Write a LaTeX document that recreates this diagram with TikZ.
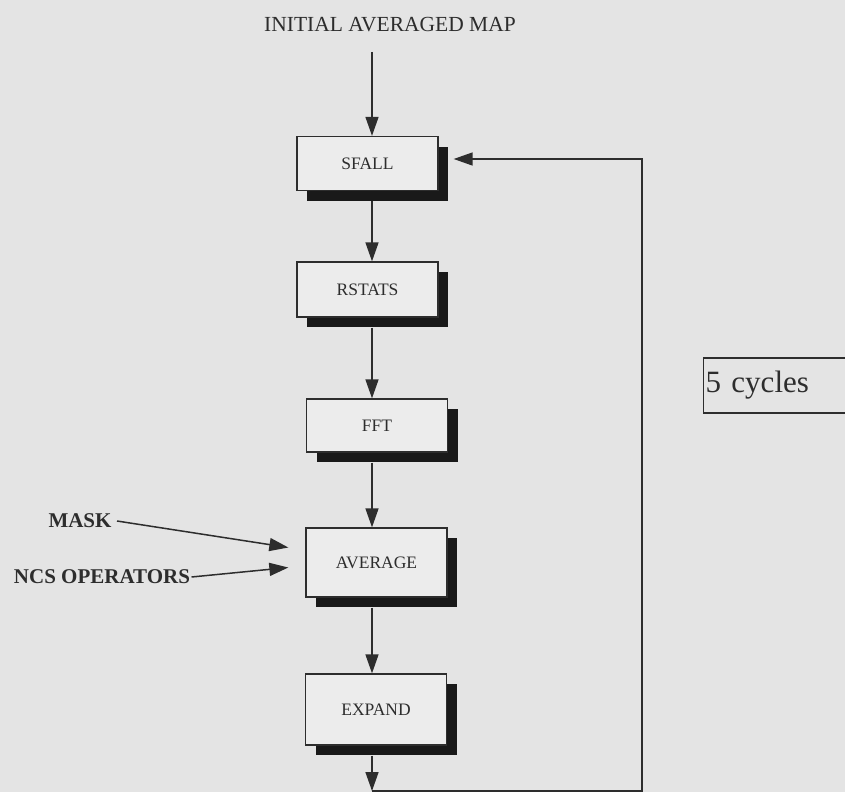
\documentclass[tikz,border=0pt]{standalone}
\usepackage{fontspec}
\setmainfont{Liberation Serif}
\usepackage{tikz}
\usetikzlibrary{arrows.meta,positioning,shadows}
\usepackage{xcolor}
\definecolor{scanbg}{RGB}{228,228,228}
\definecolor{boxfill}{RGB}{236,236,236}
\definecolor{inkdark}{RGB}{45,45,45}
\definecolor{shadowink}{RGB}{25,25,25}

\begin{document}
\begin{tikzpicture}[x=1pt, y=-1pt,
    stage/.style={rectangle, draw=inkdark, line width=1.3pt, fill=boxfill,
                  minimum width=141pt, inner sep=0pt, text=inkdark,
                  font=\fontsize{17.5}{19}\selectfont,
                  drop shadow={shadow xshift=10pt, shadow yshift=-10pt, fill=shadowink, opacity=1}},
    flow/.style={draw=inkdark, line width=1.5pt, -{Triangle[length=19pt, width=13pt]}},
    inlabel/.style={text=inkdark, font=\fontsize{21}{23}\selectfont\bfseries},
    toplabel/.style={text=inkdark, font=\fontsize{21.5}{23}\selectfont},
    note/.style={draw=inkdark, line width=1.3pt, anchor=west, align=left, text width=150pt,
                 minimum height=55pt, inner xsep=2pt, text=inkdark, font=\fontsize{31}{33}\selectfont}
]
    \fill[scanbg] (0,0) rectangle (845,792);
    \useasboundingbox (0,0) rectangle (845,792);

    \coordinate (spine) at (372,0);
    \node[toplabel] (init) at (390,25) {INITIAL AVERAGED MAP};
    \coordinate (initfoot) at (372,52);

    \node[stage, minimum height=54pt] (sfall) at (367.5,163.5) {SFALL};
    \node[stage, minimum height=55pt] (rstats) at (367.5,289.5) {RSTATS};
    \node[stage, minimum height=53pt] (fft) at (377,425.5) {FFT};
    \node[stage, minimum height=69pt, text depth=-12pt] (average) at (376.5,562.5) {AVERAGE};
    \node[stage, minimum height=71pt, text depth=-12pt] (expand) at (376,709.5) {EXPAND};

    \node[inlabel] (mask) at (80,521) {MASK};
    \node[inlabel] (ncs) at (102,577) {NCS OPERATORS};

    \node[note] (cycles) at (703,385.5) {5 cycles};

    \draw[flow] (initfoot) -- (sfall.north -| spine);
    \draw[flow] ([yshift=-10pt]sfall.south -| spine) -- (rstats.north -| spine);
    \draw[flow] ([yshift=-10pt]rstats.south -| spine) -- (fft.north -| spine);
    \draw[flow] ([yshift=-10pt]fft.south -| spine) -- (average.north -| spine);
    \draw[flow] ([yshift=-10pt]average.south -| spine) -- (expand.north -| spine);

    \coordinate (exit) at (372,791);
    \coordinate (rail) at (642,159);
    \draw[flow] ([yshift=-10pt]expand.south -| spine) -- (exit);
    \draw[flow] (exit) -| (rail) -- ([xshift=15pt, yshift=4.5pt]sfall.east);

    \draw[flow] ([xshift=2pt]mask.east) -- ([xshift=-17pt, yshift=15pt]average.west);
    \draw[flow] ([xshift=-2pt]ncs.east) -- ([xshift=-17pt, yshift=-5pt]average.west);
\end{tikzpicture}
\end{document}
